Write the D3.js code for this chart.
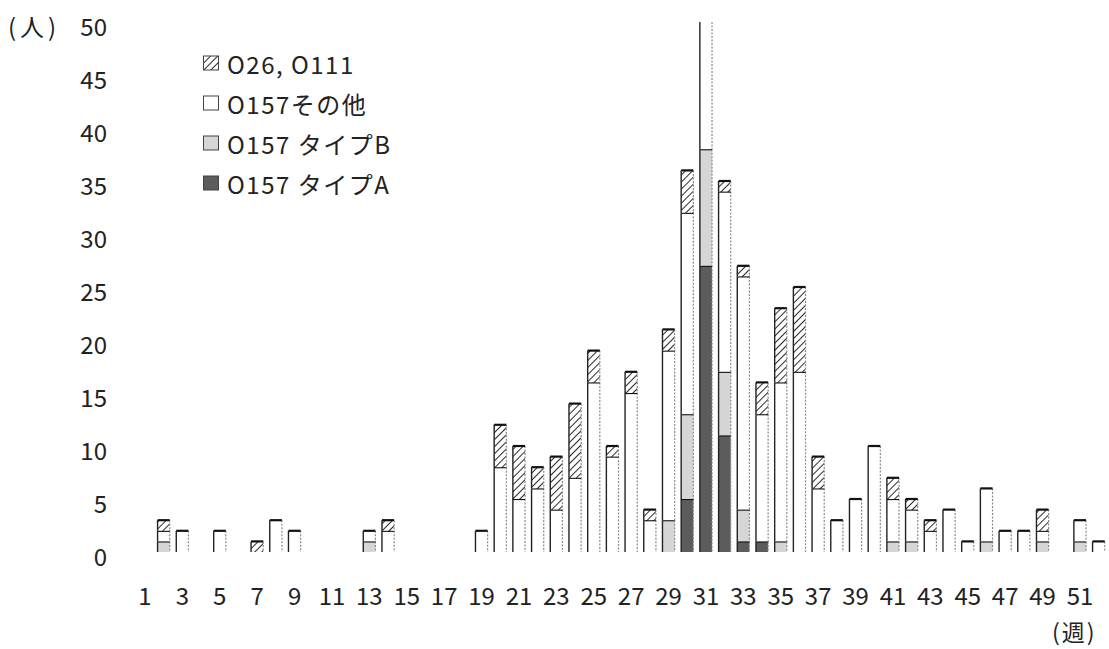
<!DOCTYPE html>
<html>
<head>
<meta charset="utf-8">
<script src="https://cdn.jsdelivr.net/npm/d3@7"></script>
<style>
  body { margin: 0; background: #fff; }
  #chart { width: 1109px; height: 649px; }
  text { font-family: "Noto Sans CJK JP", "Noto Sans", sans-serif; fill: #222; }
</style>
</head>
<body>
<div id="chart"></div>
<script>
// weeks 1..52
const weeks = d3.range(1, 53);
const tickWeeks = weeks.filter(w => w % 2 === 1);
const yTicks = [0, 5, 10, 15, 20, 25, 30, 35, 40, 45, 50];

// series (bottom to top), one value per week
const typeA = [0,0,0,0,0,0,0,0,0,0, 0,0,0,0,0,0,0,0,0,0, 0,0,0,0,0,0,0,0,0,5, 27,11,1,1,0,0,0,0,0,0, 0,0,0,0,0,0,0,0,0,0, 0,0];
const typeB = [0,1,0,0,0,0,0,0,0,0, 0,0,1,0,0,0,0,0,0,0, 0,0,0,0,0,0,0,0,3,8, 11,6,3,0,1,0,0,0,0,0, 1,1,0,0,0,1,0,0,1,0, 1,0];
const other = [0,1,2,0,2,0,0,3,2,0, 0,0,1,2,0,0,0,0,2,8, 5,6,4,7,16,9,15,3,16,19, 13,17,22,12,15,17,6,3,5,10, 4,3,2,4,1,5,2,2,1,0, 2,1];
const o26 = [0,1,0,0,0,0,1,0,0,0, 0,0,0,1,0,0,0,0,0,4, 5,2,5,7,3,1,2,1,2,4, 0,1,1,3,7,8,3,0,0,0, 2,1,1,0,0,0,0,0,2,0, 0,0];

const seriesNames = ["O157 タイプA", "O157 タイプB", "O157その他", "O26, O111"];
const seriesKeys = ["a", "b", "other", "o26"];
const legendOrder = ["o26", "other", "b", "a"]; // legend lists top segment first

const rows = weeks.map((w, i) => ({ week: w, a: typeA[i], b: typeB[i], other: other[i], o26: o26[i] }));

const W = 1109, H = 649;
const svg = d3.select("#chart").append("svg")
  .attr("width", W)
  .attr("height", H);

// hatch pattern for O26, O111
const defs = svg.append("defs");
const hatch = defs.append("pattern")
  .attr("id", "hatch")
  .attr("patternUnits", "userSpaceOnUse")
  .attr("width", 5)
  .attr("height", 5)
  .attr("patternTransform", "rotate(45)");
hatch.append("rect").attr("width", 5).attr("height", 5).attr("fill", "#fff");
hatch.append("line")
  .attr("x1", 0).attr("y1", 0).attr("x2", 0).attr("y2", 5)
  .attr("stroke", "#111")
  .attr("stroke-width", 1.8);

const fills = { a: "#5c5c5c", b: "#d6d6d6", other: "#ffffff", o26: "url(#hatch)" };

// scales
const x = d3.scaleBand()
  .domain(weeks)
  .range([135.6, 1108])
  .paddingInner(0.35)
  .paddingOuter(0.175);

const y = d3.scaleLinear()
  .domain([0, 50])
  .range([552, 22]);

// clip so the week 31 bar is cut at 50
defs.append("clipPath").attr("id", "plot")
  .append("rect")
  .attr("x", 0).attr("y", y(50))
  .attr("width", W).attr("height", y(0) - y(50) + 2);

const stacked = d3.stack().keys(seriesKeys)(rows);

const plot = svg.append("g").attr("clip-path", "url(#plot)");

stacked.forEach(layer => {
  const key = layer.key;
  const segs = layer.filter(d => d[1] - d[0] > 0);
  const g = plot.append("g");

  g.selectAll("rect")
    .data(segs)
    .enter()
    .append("rect")
    .attr("x", d => x(d.data.week))
    .attr("y", d => y(d[1]))
    .attr("width", x.bandwidth())
    .attr("height", d => y(d[0]) - y(d[1]))
    .attr("fill", fills[key]);

  // light dotted right edge (scanned look)
  g.selectAll("line.r")
    .data(segs)
    .enter()
    .append("line")
    .attr("class", "r")
    .attr("x1", d => x(d.data.week) + x.bandwidth())
    .attr("x2", d => x(d.data.week) + x.bandwidth())
    .attr("y1", d => y(d[1]))
    .attr("y2", d => y(d[0]))
    .attr("stroke", "#8a8a8a")
    .attr("stroke-width", 1.2)
    .attr("stroke-dasharray", "2,1.5");

  // dark left edge
  g.selectAll("line.l")
    .data(segs)
    .enter()
    .append("line")
    .attr("class", "l")
    .attr("x1", d => x(d.data.week))
    .attr("x2", d => x(d.data.week))
    .attr("y1", d => y(d[1]))
    .attr("y2", d => y(d[0]))
    .attr("stroke", "#222")
    .attr("stroke-width", 1.4);

  // dark top edge
  g.selectAll("line.t")
    .data(segs)
    .enter()
    .append("line")
    .attr("class", "t")
    .attr("x1", d => x(d.data.week))
    .attr("x2", d => x(d.data.week) + x.bandwidth())
    .attr("y1", d => y(d[1]))
    .attr("y2", d => y(d[1]))
    .attr("stroke", "#111")
    .attr("stroke-width", 2.2);
});

// y tick labels
svg.append("g")
  .selectAll("text")
  .data(yTicks)
  .enter()
  .append("text")
  .attr("x", 107)
  .attr("y", d => y(d) + 3)
  .attr("text-anchor", "end")
  .attr("dominant-baseline", "central")
  .attr("font-size", "24px")
  .text(d => d);

// x tick labels (odd weeks)
svg.append("g")
  .selectAll("text")
  .data(tickWeeks)
  .enter()
  .append("text")
  .attr("x", d => x(d) + x.bandwidth() / 2)
  .attr("y", 594)
  .attr("text-anchor", "middle")
  .attr("dominant-baseline", "central")
  .attr("font-size", "24px")
  .text(d => d);

// axis units
svg.append("text")
  .attr("x", 8)
  .attr("y", 25)
  .attr("dominant-baseline", "central")
  .attr("font-size", "24px")
  .attr("letter-spacing", "4px")
  .text("(人)");

svg.append("text")
  .attr("x", 1052)
  .attr("y", 631)
  .attr("dominant-baseline", "central")
  .attr("font-size", "23px")
  .attr("letter-spacing", "2px")
  .text("(週)");

// legend
const legend = svg.append("g").attr("transform", "translate(203, 63)");
legendOrder.forEach((key, i) => {
  const row = legend.append("g").attr("transform", `translate(0, ${i * 40})`);
  row.append("rect")
    .attr("x", 0.5)
    .attr("y", -7)
    .attr("width", 15)
    .attr("height", 14)
    .attr("fill", fills[key])
    .attr("stroke", "#444")
    .attr("stroke-width", 1);
  row.append("text")
    .attr("x", 24)
    .attr("y", 0)
    .attr("dominant-baseline", "central")
    .attr("font-size", "24px")
    .attr("letter-spacing", "1.5px")
    .text(seriesNames[seriesKeys.indexOf(key)]);
});
</script>
</body>
</html>
